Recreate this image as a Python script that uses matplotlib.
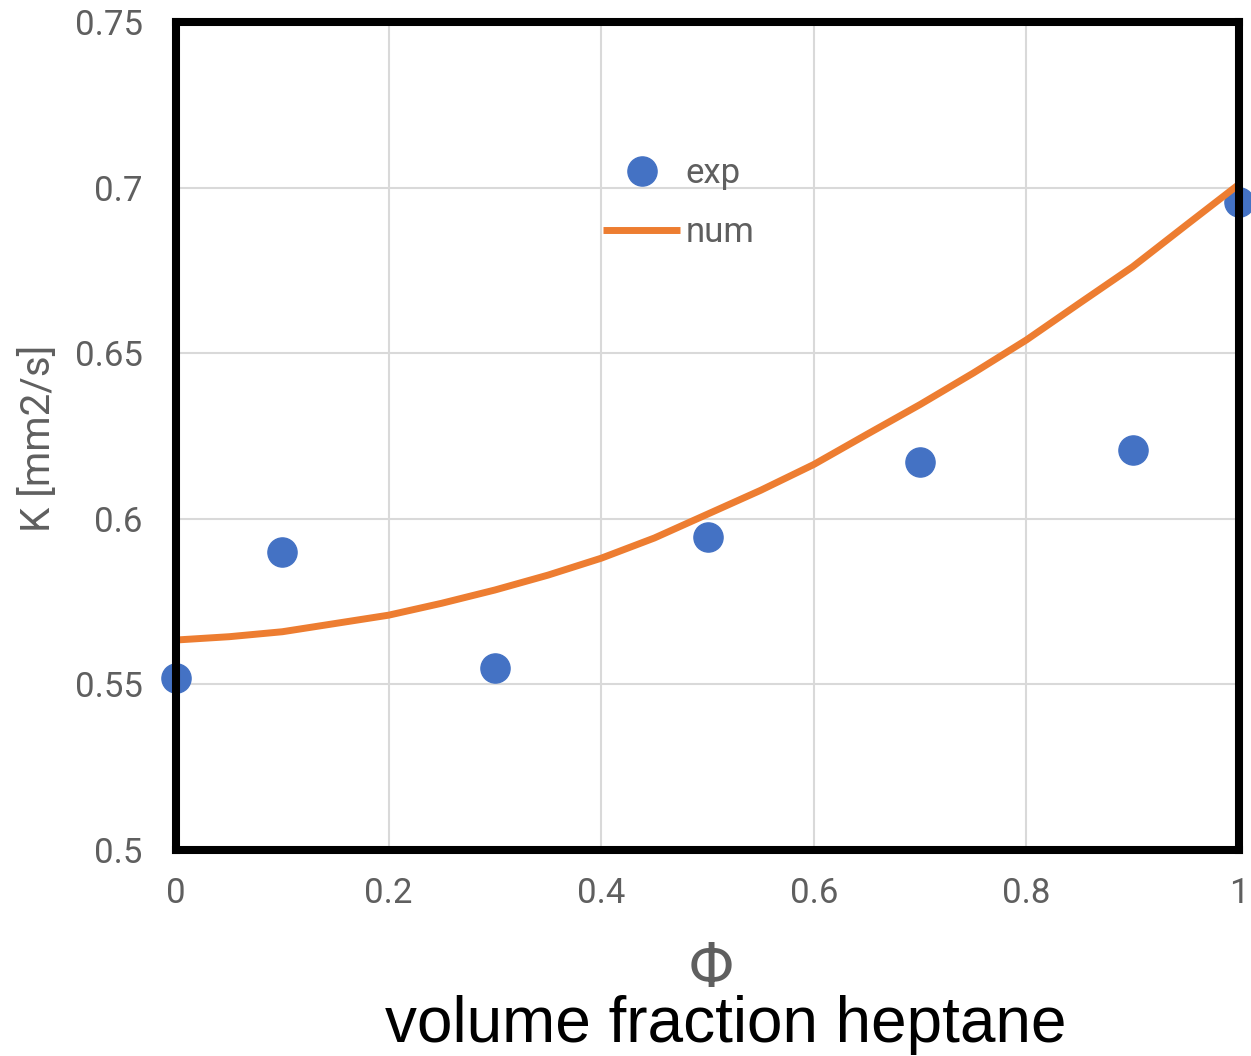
import matplotlib
matplotlib.use("Agg")
import matplotlib.pyplot as plt
from matplotlib.ticker import FixedLocator, FuncFormatter

# Measured diffusivity (exp) and model curve (num) vs. heptane volume fraction
phi_exp = [0.0, 0.1, 0.3, 0.5, 0.7, 0.9, 1.0]
k_exp = [0.552, 0.590, 0.555, 0.5946, 0.617, 0.6207, 0.6957]

phi_num = [0.0, 0.05, 0.1, 0.15, 0.2, 0.25, 0.3, 0.35, 0.4, 0.45, 0.5,
           0.55, 0.6, 0.65, 0.7, 0.75, 0.8, 0.85, 0.9, 0.95, 1.0]
k_num = [0.5634, 0.5644, 0.5659, 0.5684, 0.5709, 0.5745, 0.5785, 0.5830,
         0.5881, 0.5942, 0.6014, 0.6086, 0.6164, 0.6255, 0.6345, 0.6440,
         0.6540, 0.6651, 0.6761, 0.6886, 0.7010]

x_ticks = [0, 0.2, 0.4, 0.6, 0.8, 1.0]
y_ticks = [0.5, 0.55, 0.6, 0.65, 0.7, 0.75]

BLUE = "#4472C4"
ORANGE = "#ED7D31"
GREY = "#5f5f5f"
GRID = "#d9d9d9"

fig = plt.figure(figsize=(12.51, 10.56), dpi=100)
fig.patch.set_facecolor("white")
W, H = 1251, 1056
left, right, top, bottom = 176, 1239, 22, 850
ax = fig.add_axes([left / W, 1 - bottom / H, (right - left) / W, (bottom - top) / H])

ax.plot(phi_exp, k_exp, "o", ms=21, color=BLUE, mec=BLUE, clip_on=False,
        zorder=3, label="exp")
ax.plot(phi_num, k_num, "-", lw=5, color=ORANGE, solid_capstyle="butt",
        solid_joinstyle="round", zorder=4, label="num")

ax.set_xlim(0, 1)
ax.set_ylim(0.5, 0.75)
ax.xaxis.set_major_locator(FixedLocator(x_ticks))
ax.yaxis.set_major_locator(FixedLocator(y_ticks))


def fmt(v, pos):
    return f"{v:.2f}".rstrip("0").rstrip(".")


ax.xaxis.set_major_formatter(FuncFormatter(fmt))
ax.yaxis.set_major_formatter(FuncFormatter(fmt))

ax.grid(True, color=GRID, lw=1.5, zorder=0)
ax.set_axisbelow(True)
ax.tick_params(length=0, labelsize=25, labelcolor=GREY)
ax.tick_params(axis="y", pad=24)
ax.tick_params(axis="x", pad=19.5)
for lab in ax.get_xticklabels() + ax.get_yticklabels():
    lab.set_fontfamily(["Roboto", "DejaVu Sans"])

for sp in ax.spines.values():
    sp.set_linewidth(5.8)
    sp.set_color("black")
    sp.set_zorder(6)

leg = ax.legend(loc="center", bbox_to_anchor=(679 / W, 1 - 203 / H),
                bbox_transform=fig.transFigure, frameon=False, numpoints=1,
                handlelength=2.2, handletextpad=0.17, labelspacing=0.75,
                borderpad=0, prop={"family": ["Roboto", "DejaVu Sans"], "size": 25})
for t in leg.get_texts():
    t.set_color(GREY)

fig.text(38 / W, 1 - 438 / H, "K [mm2/s]", rotation=90, ha="center", va="center",
         fontsize=29, color=GREY, family=["Roboto", "DejaVu Sans"])
fig.text(711 / W, 1 - 987 / H, "Φ", ha="center", va="baseline",
         fontsize=45, color=GREY, family=["Roboto", "DejaVu Sans"])
fig.text(726 / W, 1 - 1042 / H, "volume fraction heptane", ha="center",
         va="baseline", fontsize=46, color="black",
         family=["Liberation Sans", "DejaVu Sans"])

fig.savefig("out.png", dpi=100)
